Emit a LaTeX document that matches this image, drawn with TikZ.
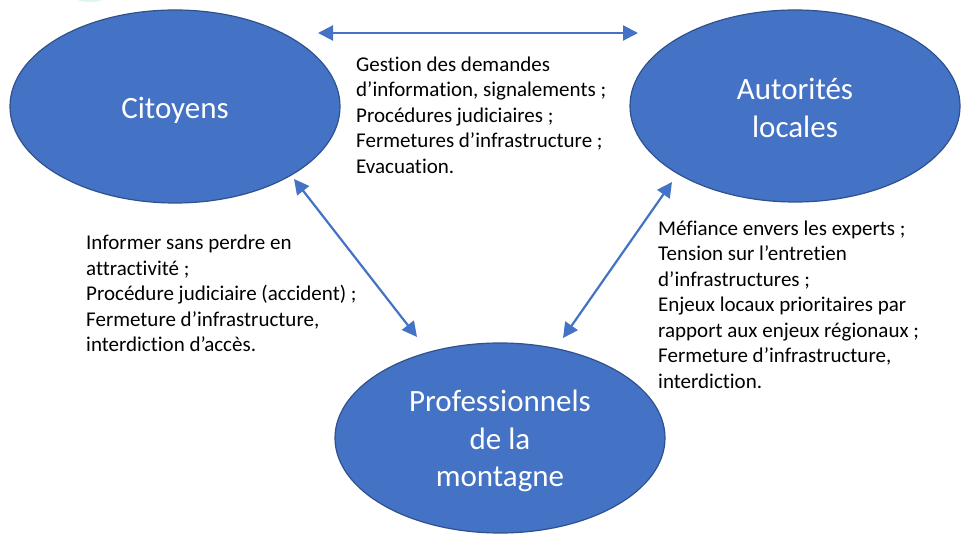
\documentclass[tikz,border=0pt]{standalone}
\usepackage{fontspec}
\setmainfont{Carlito}[Ligatures=NoCommon]
\usetikzlibrary{shapes.geometric,arrows.meta}
\definecolor{fillblue}{HTML}{4472C4}
\definecolor{edgeblue}{HTML}{2F528F}
\definecolor{mint}{HTML}{DDF6EC}
\begin{document}
\begin{tikzpicture}[x=1pt,y=-1pt,
  actor/.style={ellipse, draw=edgeblue, line width=1.2pt, fill=fillblue,
    inner sep=0pt},
  actorname/.style={text=white, inner sep=0pt, align=center,
    font=\fontsize{31}{37.5}\selectfont},
  note/.style={anchor=north west, inner sep=0pt, align=left,
    font=\fontsize{21}{25.5}\selectfont},
  link/.style={draw=fillblue, line width=2.2pt,
    {Triangle[length=15pt,width=15pt]}-{Triangle[length=15pt,width=15pt]}}]
  % canvas
  \clip (0,0) rectangle (961,534);
  \fill[white] (0,0) rectangle (961,534);
  % faint shape cut off by the top edge
  \fill[mint] (90,-19) ellipse [x radius=30pt, y radius=21pt];

  % the three actors
  \node[actor, minimum width=330pt, minimum height=193pt] (cit) at (175,106.5) {};
  \node[actor, minimum width=330pt, minimum height=192pt] (aut) at (795,106) {};
  \node[actor, minimum width=330pt, minimum height=190pt] (pro) at (500,438) {};
  \node[actorname] (citname) at ([yshift=-4pt]cit.center) {Citoyens};
  \node[actorname] (autname) at ([yshift=-2pt]aut.center) {Autorités\\locales};
  \node[actorname] (proname) at ([yshift=-3pt]pro.center) {Professionnels\\de la\\montagne};

  % arrow ends
  \coordinate (ca) at (318,33);
  \coordinate (ac) at (638,33);
  \coordinate (cp) at (294,179);
  \coordinate (pc) at (417,337);
  \coordinate (ap) at (672,182);
  \coordinate (pa) at (563,338);

  \draw[link] (ca) -- (ac);
  \draw[link] (cp) -- (pc);
  \draw[link] (ap) -- (pa);

  % relation notes
  \node[note] (n1) at (356,53.2) {\strut Gestion des demandes\\d’information, signalements ;\\Procédures judiciaires ;\\Fermetures d’infrastructure ;\\Evacuation.};
  \node[note] (n2) at (86,231.5) {\strut Informer sans perdre en\\attractivité ;\\Procédure judiciaire (accident) ;\\Fermeture d’infrastructure,\\interdiction d’accès.};
  \node[note] (n3) at (658,217.2) {\strut Méfiance envers les experts ;\\Tension sur l’entretien\\d’infrastructures ;\\Enjeux locaux prioritaires par\\rapport aux enjeux régionaux ;\\Fermeture d’infrastructure,\\interdiction.};
\end{tikzpicture}
\end{document}
